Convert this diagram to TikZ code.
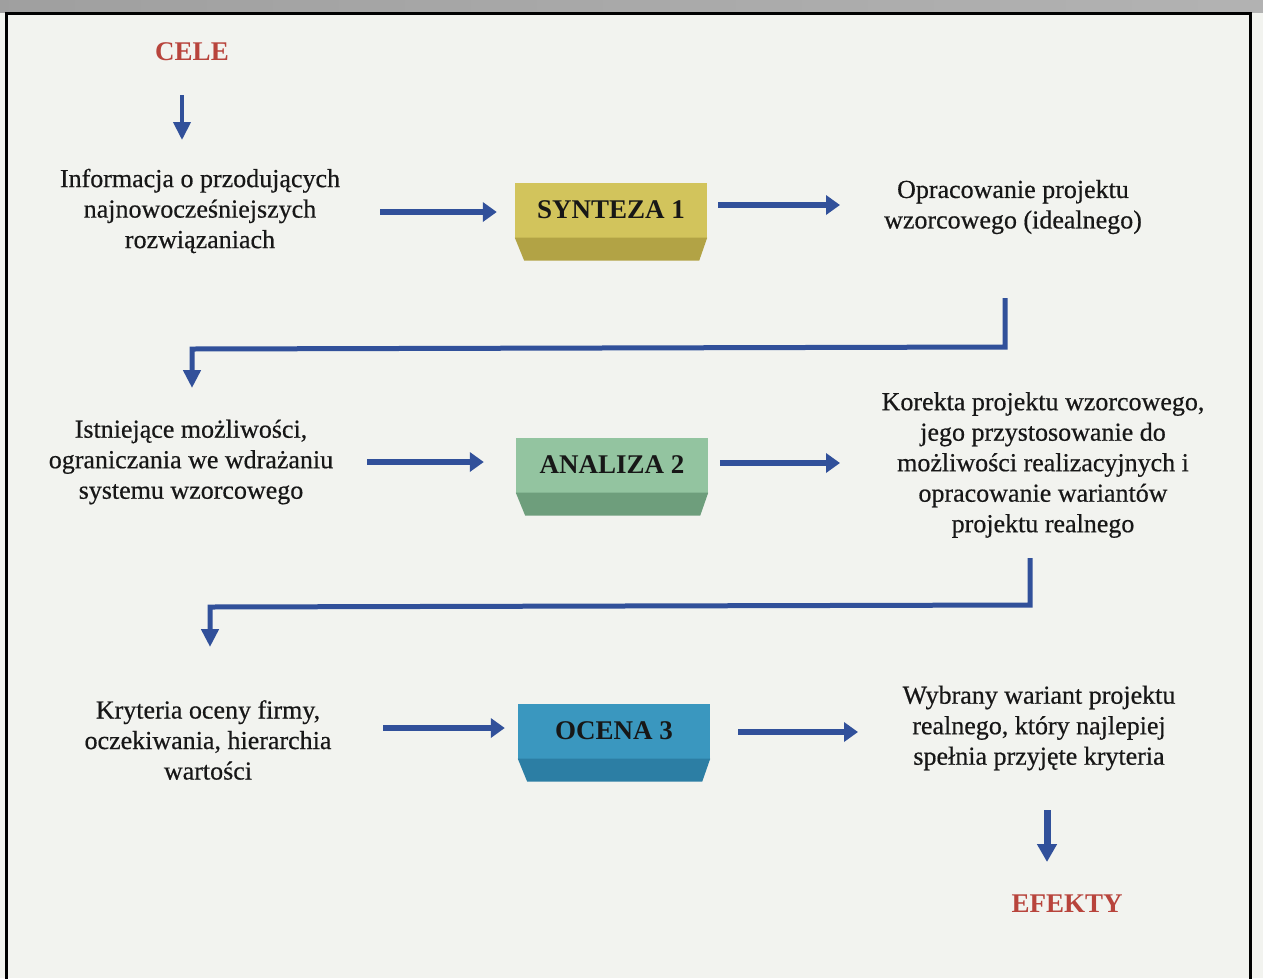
\documentclass[tikz,border=0pt]{standalone}
\usepackage{fontspec}
\setmainfont{Liberation Serif}
\newfontfamily\inkfont{Liberation Serif}[FakeBold=0.5]
\usetikzlibrary{arrows.meta}

\definecolor{paper}{HTML}{F2F3EF}
\definecolor{ink}{HTML}{171717}
\definecolor{redlabel}{HTML}{B8443C}
\definecolor{flow}{HTML}{31509A}
\definecolor{synTop}{HTML}{D2C45C}
\definecolor{synLow}{HTML}{B2A345}
\definecolor{anaTop}{HTML}{93C4A0}
\definecolor{anaLow}{HTML}{6E9E7C}
\definecolor{ocTop}{HTML}{3A97BF}
\definecolor{ocLow}{HTML}{2C7EA4}

\tikzset{
  desc/.style={align=center, text=ink, inner sep=0pt,
    font=\inkfont\fontsize{26}{30.5}\selectfont},
  endlabel/.style={text=redlabel, inner sep=0pt,
    font=\bfseries\fontsize{27}{30}\selectfont},
  block/.style={minimum width=192pt, minimum height=55pt, inner sep=0pt,
    text=ink, font=\bfseries\fontsize{27}{30}\selectfont},
  flowarrow/.style={draw=flow, line width=6pt,
    -{Triangle[length=14pt,width=19pt]}},
  elbowarrow/.style={draw=flow, line width=5pt,
    -{Triangle[length=18pt,width=17pt]}},
}

% bevelled lower face under a block
\newcommand{\blockbase}[2]{%
  \fill[#2] (#1.south west) -- (#1.south east) -- ++(-8,23) -- ++(-175,0) -- cycle;}

\begin{document}
\begin{tikzpicture}[x=1pt, y=-1pt]
  \useasboundingbox (0,0) rectangle (1263,978);
  \fill[paper] (0,0) rectangle (1263,978);

  % grey strip and frame at the top of the sheet
  \shade[left color=gray!75, right color=gray!60] (0,0) rectangle (1263,12);
  \draw[black, line width=3pt] (6,990) -- (6,13) -- (1250,13) -- (1250,990);

  % labels at both ends of the process
  \node[endlabel] (cele) at (192,52) {CELE};
  \node[endlabel] (efekty) at (1067,904) {EFEKTY};

  % stage 1
  \node[desc] (info) at (200,211) {Informacja o przodujących\\najnowocześniejszych\\rozwiązaniach};
  \node[block, fill=synTop] (syn) at (611,210) {SYNTEZA 1};
  \blockbase{syn}{synLow}
  \node[desc] (opr) at (1013,207) {Opracowanie projektu\\wzorcowego (idealnego)};

  % stage 2
  \node[desc] (ist) at (191,462) {Istniejące możliwości,\\ograniczania we wdrażaniu\\systemu wzorcowego};
  \node[block, fill=anaTop] (ana) at (612,465) {ANALIZA 2};
  \blockbase{ana}{anaLow}
  \node[desc] (kor) at (1043,465) {Korekta projektu wzorcowego,\\jego przystosowanie do\\możliwości realizacyjnych i\\opracowanie wariantów\\projektu realnego};

  % stage 3
  \node[desc] (kry) at (208,740) {Kryteria oceny firmy,\\oczekiwania, hierarchia\\wartości};
  \node[block, fill=ocTop] (oce) at (614,731) {OCENA 3};
  \blockbase{oce}{ocLow}
  \node[desc] (wyb) at (1039,728) {Wybrany wariant projektu\\realnego, który najlepiej\\spełnia przyjęte kryteria};

  % connector end points
  \coordinate (c0) at (182,95);
  \coordinate (c0e) at (182,140);
  \coordinate (a1) at (380,212);
  \coordinate (a2) at (718,205);
  \coordinate (a2e) at (840,205);
  \coordinate (a3) at (367,462);
  \coordinate (a4) at (720,463);
  \coordinate (a4e) at (840,463);
  \coordinate (a5) at (383,728);
  \coordinate (a6) at (738,732);
  \coordinate (a6e) at (858,732);
  \coordinate (e1) at (1005,298);
  \coordinate (e1e) at (192,388);
  \coordinate (e2) at (1030,558);
  \coordinate (e2e) at (210,647);
  \coordinate (f0) at (1047,810);
  \coordinate (f0e) at (1047,862);

  % flow arrows
  \draw[elbowarrow, line width=4pt] (c0) -- (c0e);
  \draw[flowarrow, shorten >=18pt] (a1) -- (a1 -| syn.west);
  \draw[flowarrow] (a2) -- (a2e);
  \draw[elbowarrow, line join=miter] (e1) -- (1005,347) -- (192,349) -- (e1e);
  \draw[flowarrow, shorten >=32pt] (a3) -- (a3 -| ana.west);
  \draw[flowarrow] (a4) -- (a4e);
  \draw[elbowarrow, line join=miter] (e2) -- (1030,605) -- (210,607) -- (e2e);
  \draw[flowarrow, shorten >=13pt] (a5) -- (a5 -| oce.west);
  \draw[flowarrow] (a6) -- (a6e);
  \draw[draw=flow, line width=7pt, -{Triangle[length=18pt,width=19pt]}] (f0) -- (f0e);
\end{tikzpicture}
\end{document}
